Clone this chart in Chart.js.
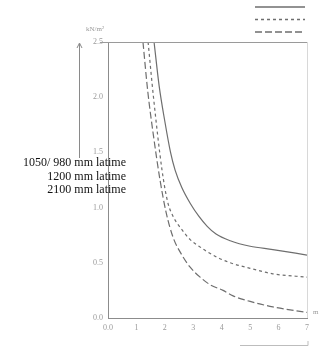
<!DOCTYPE html>
<html>
<head>
<meta charset="utf-8">
<script src="https://cdn.jsdelivr.net/npm/chart.js@4/dist/chart.umd.min.js"></script>
<style>
  body { margin: 0; background: #fff; }
  #wrap { width: 325px; height: 347px; position: relative; }
</style>
</head>
<body>
<div id="wrap"><canvas id="myChart" width="325" height="347"></canvas></div>
<script>
// valori
const seriesNames = ['1050/ 980 mm latime', '1200 mm latime', '2100 mm latime'];
const xTicks = [0, 1, 2, 3, 4, 5, 6, 7];
const yTicks = [0, 0.5, 1.0, 1.5, 2.0, 2.5];

const xSolid = [1.62, 1.8, 2.0, 2.2, 2.36, 2.6, 2.89, 3.2, 3.49, 3.8, 4.3, 5.0, 5.8, 7.0];
const ySolid = [2.5, 2.1, 1.78, 1.5, 1.34, 1.18, 1.04, 0.92, 0.83, 0.76, 0.70, 0.65, 0.62, 0.57];

const xShort = [1.41, 1.6, 1.9, 2.1, 2.29, 2.6, 2.89, 3.2, 3.49, 3.84, 4.3, 5.0, 5.8, 7.0];
const yShort = [2.5, 2.0, 1.34, 1.05, 0.92, 0.80, 0.71, 0.65, 0.60, 0.55, 0.50, 0.45, 0.40, 0.37];

const xLong = [1.23, 1.4, 1.6, 1.83, 2.05, 2.29, 2.6, 2.89, 3.24, 3.6, 4.05, 4.4, 5.0, 5.8, 7.0];
const yLong = [2.5, 2.05, 1.65, 1.25, 0.95, 0.73, 0.57, 0.46, 0.37, 0.30, 0.25, 0.20, 0.15, 0.10, 0.05];

function pts(xs, ys) {
  return xs.map((x, i) => ({ x: x, y: ys[i] }));
}

const lineColor = '#6e6e6e';
const dashes = [[], [3, 3], [7, 3]];

// rama, legenda si textele laterale
const extras = {
  id: 'extras',
  afterDraw(chart) {
    const ctx = chart.ctx;
    const a = chart.chartArea;
    ctx.save();
    ctx.strokeStyle = '#9a9a9a';
    ctx.lineWidth = 1;
    ctx.beginPath();
    ctx.moveTo(a.left - 8, a.top + 0.5);
    ctx.lineTo(a.right + 0.5, a.top + 0.5);
    ctx.stroke();
    ctx.strokeStyle = '#d8d8d8';
    ctx.beginPath();
    ctx.moveTo(a.right + 0.5, a.top);
    ctx.lineTo(a.right + 0.5, a.bottom);
    ctx.stroke();

    // sageata axei
    ctx.strokeStyle = '#8a8a8a';
    ctx.beginPath();
    ctx.moveTo(79.5, 44);
    ctx.lineTo(79.5, 158);
    ctx.moveTo(77, 48);
    ctx.lineTo(79.5, 43);
    ctx.lineTo(82, 48);
    ctx.stroke();
    // linie jos
    ctx.strokeStyle = '#bdbdbd';
    ctx.beginPath();
    ctx.moveTo(240, 345.5);
    ctx.lineTo(308, 345.5);
    ctx.lineTo(308, 341);
    ctx.stroke();

    // legenda (doar linii)
    chart.data.datasets.forEach((ds, i) => {
      const y = 7 + i * 12.5;
      ctx.strokeStyle = ds.borderColor;
      ctx.lineWidth = 1.3;
      ctx.setLineDash(ds.borderDash);
      ctx.beginPath();
      ctx.moveTo(255, y);
      ctx.lineTo(305, y);
      ctx.stroke();
    });
    ctx.setLineDash([]);

    ctx.fillStyle = '#111';
    ctx.font = '12px "Liberation Serif"';
    ctx.textAlign = 'right';
    ctx.textBaseline = 'middle';
    seriesNames.forEach((s, i) => {
      ctx.fillText(s, 126, 163 + i * 13.5);
    });

    ctx.fillStyle = '#999';
    ctx.font = '7px "Liberation Serif"';
    ctx.textAlign = 'left';
    ctx.fillText('kN/m²', 86, 29);
    ctx.fillText('m', 313, 312);
    ctx.restore();
  }
};

const config = {
  type: 'line',
  data: {
    datasets: seriesNames.map((name, i) => ({
      label: name,
      data: pts([xSolid, xShort, xLong][i], [ySolid, yShort, yLong][i]),
      borderColor: lineColor,
      borderWidth: 1.2,
      borderDash: dashes[i],
      pointRadius: 0,
      cubicInterpolationMode: 'monotone',
      fill: false
    }))
  },
  options: {
    responsive: false,
    animation: false,
    layout: { padding: { left: 0, top: 42, right: 18, bottom: 0 } },
    plugins: { legend: { display: false }, tooltip: { enabled: false } },
    scales: {
      x: {
        type: 'linear',
        min: 0, max: 7,
        afterBuildTicks: (s) => { s.ticks = xTicks.map(v => ({ value: v })); },
        afterFit: (s) => { s.height = 29; },
        grid: { display: false, drawTicks: false },
        border: { color: '#8c8c8c' },
        ticks: {
          color: '#9a9a9a',
          font: { family: 'Liberation Serif', size: 8 },
          padding: 5,
          callback: (v) => v === 0 ? '0.0' : String(v)
        }
      },
      y: {
        min: 0, max: 2.5,
        afterBuildTicks: (s) => { s.ticks = yTicks.map(v => ({ value: v })); },
        afterFit: (s) => { s.width = 108; },
        grid: { display: false, drawTicks: false },
        border: { color: '#8c8c8c' },
        ticks: {
          color: '#9a9a9a',
          font: { family: 'Liberation Serif', size: 8 },
          padding: 5,
          callback: (v) => v.toFixed(1)
        }
      }
    }
  },
  plugins: [extras]
};

new Chart(document.getElementById('myChart'), config);
</script>
</body>
</html>
